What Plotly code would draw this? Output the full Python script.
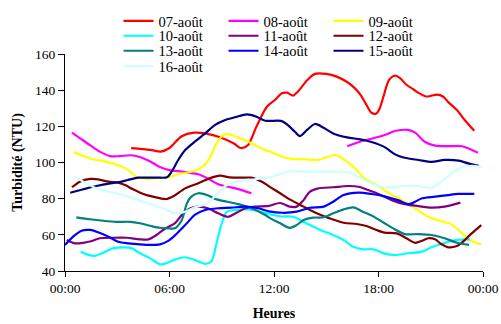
import plotly.graph_objects as go

# ---- data (hours of day, turbidity NTU) ----
names = ["07-août", "08-août", "09-août", "10-août", "11-août",
         "12-août", "13-août", "14-août", "15-août", "16-août"]
colors = ["#FF0000", "#FF00FF", "#FFFF00", "#00FFFF", "#800080",
          "#800000", "#008080", "#0000FF", "#000080", "#CCFFFF"]

h07 = [3.8, 4.9, 5.5, 6.0, 6.7, 7.4, 8.1, 8.9, 9.7, 10.1, 10.5, 11.0, 11.6, 12.1, 12.45, 12.75, 13.1, 13.4, 13.9, 14.35, 15.0, 15.6, 16.2, 16.65, 17.0, 17.3, 17.6, 17.85, 18.05, 18.3, 18.6, 18.95, 19.25, 19.6, 20.0, 20.3, 20.75, 21.05, 21.35, 21.7, 22.0, 22.5, 22.95, 23.5]
v07 = [108, 107, 106, 108, 114.5, 116.5, 116, 114, 110.5, 108, 109.5, 120, 131, 135, 138.3, 138.6, 137, 139.5, 145.5, 149, 149, 147.5, 144.5, 141, 137, 132, 127.5, 127, 129.5, 137, 145.5, 148, 146.5, 143, 140.5, 138.5, 136.5, 137, 137.5, 136.5, 133.5, 129, 123.5, 117.5]

h08 = [0.4, 0.85, 1.45, 2.0, 2.6, 3.15, 3.75, 4.3, 4.9, 5.45, 6.0, 6.5, 7.0, 7.65, 8.2, 8.8, 9.35, 9.95, 10.7, 13.5, 16.2, 17.1, 17.7, 18.35, 18.95, 19.7, 20.1, 20.65, 21.25, 22.0, 22.8, 23.7]
v08 = [116.5, 113.5, 109.5, 106, 103.5, 103.5, 104, 103, 100.5, 97.5, 95.8, 95.2, 94.5, 93.5, 91.2, 88, 86.6, 85.3, 83, None, 109, 112, 113.4, 115.2, 117.4, 118, 116.5, 111.5, 109.3, 109, 109, 105.4]

h09 = [0.5, 1.05, 1.6, 2.2, 2.75, 3.35, 3.75, 4.1, 4.7, 5.45, 6.0, 6.5, 7.25, 7.85, 8.3, 8.7, 9.1, 9.45, 10.05, 10.7, 11.45, 11.8, 12.35, 12.9, 13.7, 14.55, 15.1, 15.6, 16.05, 16.65, 17.2, 17.85, 18.55, 19.35, 20.1, 20.85, 21.6, 22.2, 22.7, 23.25, 23.9]
v09 = [105.8, 103.6, 101.8, 100.8, 99.5, 97.3, 94.9, 92.1, 90.9, 91.6, 92, 93.5, 94.9, 97.3, 102.3, 110.6, 115.2, 115.6, 113.4, 110.6, 107, 106, 103.6, 102.1, 101.8, 101.4, 103.2, 104.1, 101.4, 96.8, 91.2, 87.8, 83.3, 79.2, 74.7, 70, 67.6, 65.8, 61.7, 57.1, 54.7]

h10 = [0.9, 1.25, 1.7, 2.2, 2.75, 3.35, 3.85, 4.3, 4.9, 5.45, 5.8, 6.3, 6.9, 7.45, 8.05, 8.4, 8.7, 9.0, 9.3, 9.75, 10.35, 10.9, 11.7, 12.35, 13.1, 13.85, 14.65, 15.4, 16.0, 16.55, 17.1, 17.7, 18.35, 18.95, 19.7, 20.5, 21.05, 21.6, 22.4, 23.25]
v10 = [50.7, 49.2, 48.3, 50.1, 52.5, 53.1, 52.5, 49.8, 47, 43.7, 44.2, 46.3, 47.6, 46.1, 43.9, 45.2, 55.3, 66.4, 72.8, 73.7, 74.1, 73.7, 71.5, 70.2, 70, 66.4, 62.7, 59.9, 57.1, 53.4, 52, 52, 49.6, 48.8, 49.8, 50.7, 53.1, 54.9, 57.1, 57.5]

h11 = [0.1, 0.55, 1.05, 1.55, 2.0, 2.75, 3.55, 4.3, 4.8, 5.25, 5.75, 6.3, 6.7, 7.2, 7.65, 8.2, 8.8, 9.35, 9.85, 10.35, 10.9, 11.7, 12.35, 12.9, 13.3, 13.7, 14.05, 14.55, 15.4, 16.25, 16.85, 17.4, 18.0, 18.75, 19.5, 20.3, 21.05, 21.8, 22.7]
v11 = [57.1, 55.3, 55.6, 56.6, 58.1, 58.4, 58.4, 57.5, 57.5, 59.9, 63.5, 66.3, 70.9, 74.7, 75.6, 74.7, 71.9, 70, 72.2, 74.7, 75.6, 76, 77.6, 75.6, 75.6, 79.2, 83.8, 85.7, 86.3, 87, 86.6, 84.8, 82.6, 79.2, 77, 75.9, 75, 75.6, 77.8]

h12 = [0.4, 0.85, 1.45, 1.9, 2.5, 3.05, 3.45, 3.9, 4.5, 5.05, 5.8, 6.25, 6.9, 7.65, 8.3, 8.9, 9.45, 10.15, 10.7, 11.3, 11.85, 12.35, 12.9, 13.7, 14.45, 15.2, 16.0, 16.75, 17.3, 17.85, 18.35, 19.05, 19.6, 20.1, 20.5, 20.85, 21.25, 21.6, 22.0, 22.5, 22.85, 23.35, 23.9]
v12 = [86.3, 89.4, 90.9, 90.7, 89.4, 88.8, 87.5, 85.2, 82.6, 81.1, 79.8, 81.5, 85.7, 88.5, 91.2, 92.7, 91.8, 91.6, 91.6, 89.4, 86, 83, 79.6, 75.6, 71.9, 69.1, 66.7, 66, 64.9, 62.8, 61.2, 60.8, 58.1, 55.6, 56.7, 58.1, 57.5, 54.9, 53.1, 53.8, 56.2, 60.8, 65.4]

h13 = [0.65, 1.45, 2.2, 2.95, 3.75, 4.3, 4.9, 5.45, 6.0, 6.3, 6.7, 7.0, 7.25, 7.65, 8.15, 8.7, 9.3, 9.95, 10.7, 11.5, 11.8, 12.35, 12.9, 13.3, 13.7, 14.25, 14.85, 15.4, 16.0, 16.55, 17.1, 17.7, 18.35, 18.95, 19.5, 20.3, 21.05, 21.8, 22.5, 23.2]
v13 = [69.7, 68.6, 67.8, 67.2, 67.2, 66.4, 65, 63.9, 63.5, 63.6, 68.1, 77.4, 81.1, 83, 82, 79.6, 78.3, 77, 74.7, 71, 69.1, 66.4, 63.9, 65.4, 68.2, 69.5, 69.7, 71.9, 74.1, 75.2, 72.8, 70.2, 66.4, 63, 60.4, 60.4, 59.9, 58.1, 55.6, 54.4]

h14 = [0, 0.5, 0.95, 1.45, 1.9, 2.5, 3.05, 3.65, 4.3, 4.9, 5.45, 5.9, 6.3, 6.9, 7.45, 8.05, 8.8, 9.55, 10.35, 11.1, 11.7, 12.5, 13.3, 14.05, 14.85, 15.4, 16.0, 16.85, 17.6, 18.35, 19.1, 19.7, 20.0, 20.5, 21.25, 22.0, 22.6, 23.5]
v14 = [54.4, 59.3, 62.3, 62.7, 61.4, 59, 56.2, 55.3, 54.7, 54.4, 54.7, 56.5, 59.6, 65.4, 71, 73.7, 74.7, 75, 75.6, 74.7, 73, 72.2, 72.8, 75, 75.6, 78.3, 82, 83.3, 82.6, 81.3, 79.2, 77, 77.8, 80.2, 81.1, 82, 82.6, 82.6]

h15 = [0.3, 1.05, 1.8, 2.6, 3.25, 3.75, 4.2, 4.9, 5.45, 5.85, 6.12, 6.5, 6.9, 7.45, 8.05, 8.6, 9.2, 9.75, 10.45, 11.0, 11.5, 12.4, 12.8, 13.2, 13.5, 13.9, 14.35, 14.85, 15.4, 16.2, 16.95, 17.6, 18.35, 18.95, 19.5, 20.3, 21.05, 21.8, 22.6, 23.15, 23.75]
v15 = [83.3, 85.2, 87, 88.5, 89.4, 90.7, 91.6, 91.6, 91.6, 91.8, 94.9, 101.4, 106.9, 111.5, 116.1, 120.7, 123.5, 125, 126.6, 125.3, 123.1, 123, 120.7, 117, 114.6, 118, 121.3, 119.2, 116.1, 113.9, 112.8, 111.3, 108.5, 104.5, 102.6, 101.4, 100.4, 101.4, 101, 99.5, 98.1]

h16 = [0.55, 1.05, 1.65, 2.3, 2.95, 3.75, 4.5, 5.05, 5.65, 6.3, 6.9, 7.45, 8.05, 8.6, 9.2, 9.85, 10.5, 11.3, 11.85, 12.35, 12.9, 13.7, 14.65, 15.6, 16.25, 16.85, 17.5, 18.25, 18.55, 19.35, 20.3, 21.05, 21.6, 22.2, 22.75, 23.35, 23.95]
v16 = [92.5, 89.4, 86.3, 84.4, 83, 80.7, 78.3, 76.5, 74.7, 72, 72.8, 75.2, 76.9, 81.1, 87, 89.4, 90.3, 91.2, 92, 93.6, 95.3, 94.9, 94.9, 94.9, 94.6, 92.1, 88.8, 86.3, 86.1, 87, 87, 86.1, 89.4, 94, 97.3, 98.1, 97.3]

hours = [h07, h08, h09, h10, h11, h12, h13, h14, h15, h16]
values = [v07, v08, v09, v10, v11, v12, v13, v14, v15, v16]

tick_vals = [0, 6, 12, 18, 24]
tick_text = ["00:00", "06:00", "12:00", "18:00", "00:00"]
y_ticks = [40, 60, 80, 100, 120, 140, 160]

FONT = "Liberation Serif, Times New Roman, serif"

# one legend per row (3 entries per row)
legend_ids = ["legend", "legend", "legend", "legend2", "legend2", "legend2",
              "legend3", "legend3", "legend3", "legend4"]

fig = go.Figure()
for name, col, hx, vy, lg in zip(names, colors, hours, values, legend_ids):
    fig.add_trace(go.Scatter(
        x=hx, y=vy, name=name, mode="lines",
        line=dict(color=col, width=2.2, shape="spline", smoothing=0.8),
        legend=lg,
    ))

def leg(yv):
    return dict(
        orientation="h", x=0.128, xanchor="left", y=yv, yanchor="middle",
        entrywidth=60, entrywidthmode="pixels", itemwidth=30,
        font=dict(family=FONT, size=14.5, color="black"),
        bgcolor="rgba(0,0,0,0)", traceorder="normal",
    )

H = 217.0
fig.update_layout(
    width=501, height=324,
    margin=dict(l=65, r=18, t=54, b=53, autoexpand=False),
    paper_bgcolor="white", plot_bgcolor="white",
    font=dict(family=FONT, size=13.5, color="black"),
    showlegend=True,
    legend=leg(1 + (54 - 21) / H),
    legend2=leg(1 + (54 - 35.8) / H),
    legend3=leg(1 + (54 - 50.8) / H),
    legend4=leg(1 + (54 - 66.2) / H),
    xaxis=dict(
        range=[0, 24], tickvals=tick_vals, ticktext=tick_text,
        showline=True, linecolor="black", linewidth=1,
        ticks="outside", ticklen=5, tickcolor="black",
        showgrid=False, zeroline=False,
        tickfont=dict(family=FONT, size=13.5),
        title=dict(text="<b>Heures</b>", font=dict(family=FONT, size=14), standoff=12),
    ),
    yaxis=dict(
        range=[40, 160], tickvals=y_ticks,
        showline=True, linecolor="black", linewidth=1,
        ticks="outside", ticklen=6, tickcolor="black",
        showgrid=False, zeroline=False,
        tickfont=dict(family=FONT, size=13.5),
        title=dict(text="<b>Turbidité (NTU)</b>", font=dict(family=FONT, size=14), standoff=9),
    ),
)

fig.write_html("out.html", config={"displayModeBar": False},
               post_script="document.body.style.margin='0';")
